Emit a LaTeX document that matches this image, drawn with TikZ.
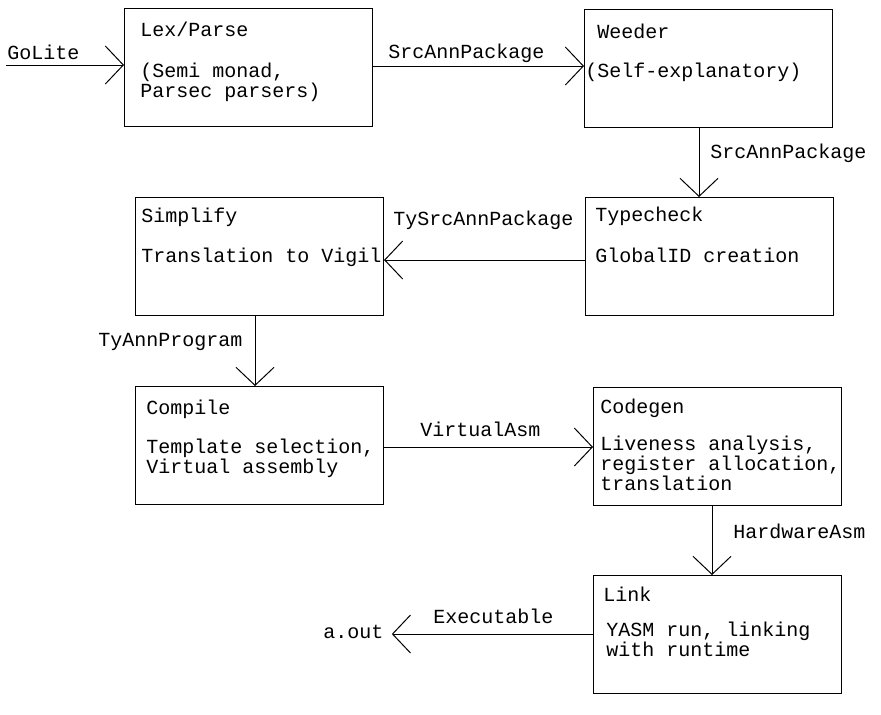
\documentclass[tikz,border=0pt]{standalone}
\usepackage{fontspec}
\setmonofont{Liberation Mono}
\usetikzlibrary{arrows.meta}

\begin{document}
\begin{tikzpicture}[x=0.5pt, y=-0.5pt,
  stage/.style={draw, line width=0.5pt, minimum width=124pt, minimum height=59pt, anchor=north west, inner sep=0pt},
  txt/.style={font=\ttfamily\fontsize{10}{10}\selectfont, anchor=base west, inner sep=0pt, align=left},
  flow/.style={line width=0.5pt, -{Straight Barb[length=9pt, width=19pt]}}]
\useasboundingbox (0,0) rectangle (881,714);
% stages
\node[stage] (lex) at (124,8) {};
\node[stage] (weeder) at (584,9) {};
\node[stage] (typecheck) at (585,197) {};
\node[stage] (simplify) at (135,197) {};
\node[stage] (compile) at (135,386) {};
\node[stage] (codegen) at (593,387) {};
\node[stage] (link) at (593,575) {};
% stage texts (multi-line ones sit on their last baseline)
\node[txt] (lextitle) at (140,36) {Lex/Parse};
\node[txt] (lexdesc) at (140,97) {(Semi monad,\\Parsec parsers)};
\node[txt] (weedertitle) at (597,38) {Weeder};
\node[txt] (weederdesc) at (585,77) {(Self-explanatory)};
\node[txt] (typechecktitle) at (595,221) {Typecheck};
\node[txt] (typecheckdesc) at (595,262) {GlobalID creation};
\node[txt] (simplifytitle) at (141,222) {Simplify};
\node[txt] (simplifydesc) at (141,262) {Translation to Vigil};
\node[txt] (compiletitle) at (146,414) {Compile};
\node[txt] (compiledesc) at (146,473) {Template selection,\\Virtual assembly};
\node[txt] (codegentitle) at (600,413) {Codegen};
\node[txt] (codegendesc) at (600,490) {Liveness analysis,\\register allocation,\\translation};
\node[txt] (linktitle) at (603,601) {Link};
\node[txt] (linkdesc) at (606,656) {YASM run, linking\\with runtime};
% lanes
\coordinate (input) at (6,65);
\coordinate (row1) at (0,66);
\coordinate (col1) at (699,0);
\coordinate (row2) at (0,260);
\coordinate (col2) at (255,0);
\coordinate (row3) at (0,447);
\coordinate (col3) at (712,0);
\coordinate (row4) at (0,634);
% flows
\draw[flow] (input) -- (lex.west |- input);
\node[txt] (golite) at (7,59) {GoLite};
\draw[flow] (lex.east |- row1) -- (weeder.west |- row1);
\node[txt] (srcann1) at (388,58) {SrcAnnPackage};
\draw[flow] (weeder.south -| col1) -- (typecheck.north -| col1);
\node[txt] (srcann2) at (710,158) {SrcAnnPackage};
\draw[flow] (typecheck.west |- row2) -- (simplify.east |- row2);
\node[txt] (tysrcann) at (393,225) {TySrcAnnPackage};
\draw[flow] (simplify.south -| col2) -- (compile.north -| col2);
\node[txt] (tyann) at (98,346) {TyAnnProgram};
\draw[flow] (compile.east |- row3) -- (codegen.west |- row3);
\node[txt] (virtualasm) at (420,436) {VirtualAsm};
\draw[flow] (codegen.south -| col3) -- (link.north -| col3);
\node[txt] (hardwareasm) at (733,538) {HardwareAsm};
\node[txt] (aout) at (323,638) {a.out};
\draw[flow] (link.west |- row4) -- ([xshift=4pt]aout.east |- row4);
\node[txt] (executable) at (433,623) {Executable};
\end{tikzpicture}
\end{document}
